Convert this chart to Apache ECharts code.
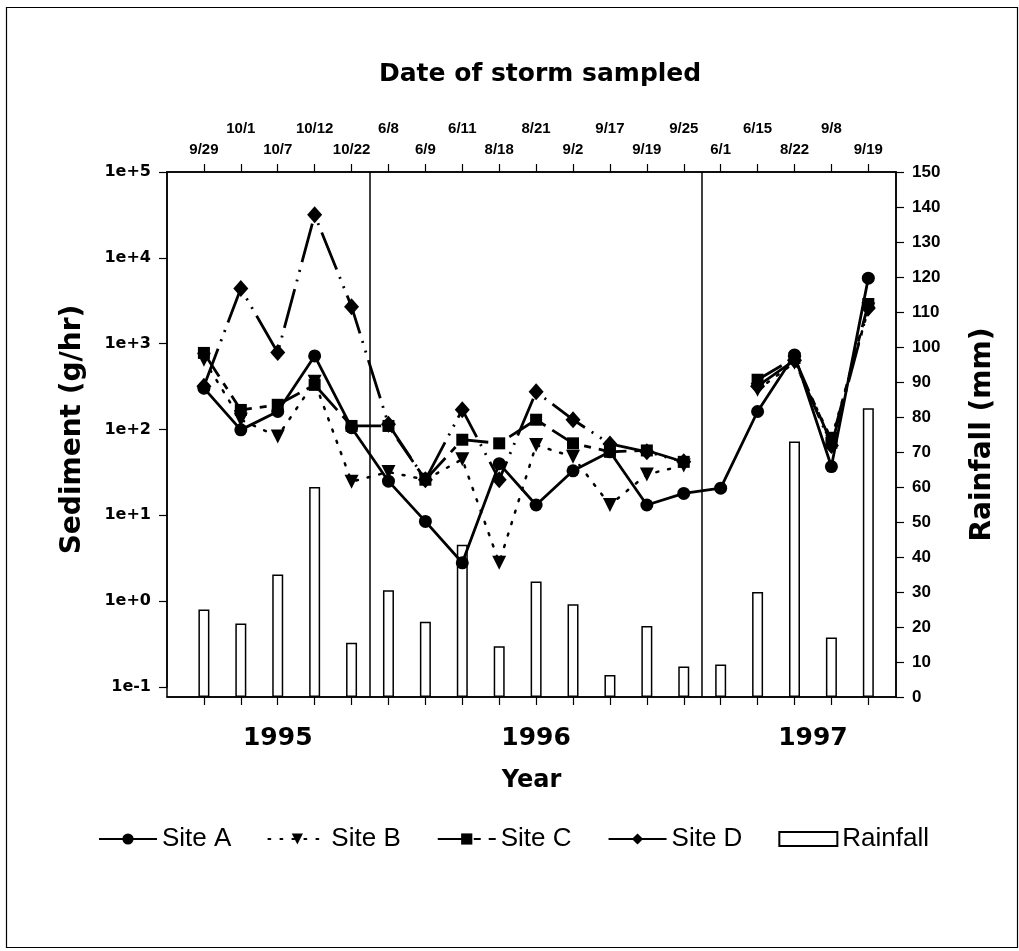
<!DOCTYPE html>
<html>
<head>
<meta charset="utf-8">
<script src="https://cdn.jsdelivr.net/npm/echarts@6/dist/echarts.min.js"></script>
<style>
  html, body { margin: 0; padding: 0; background: #fff; }
  #chart { width: 1019px; height: 951px; }
</style>
</head>
<body>
<div id="chart"></div>
<script>
// storm dates (top axis)
var storms = ['9/29','10/1','10/7','10/12','10/22','6/8','6/9','6/11','8/18','8/21','9/2','9/17','9/19','9/25','6/1','6/15','8/22','9/8','9/19'];
// sediment g/hr
var siteA = [303, 99, 162, 720, 105, 25, 8.5, 2.8, 40, 13.2, 33, 55, 13.2, 18, 20.7, 162, 740, 37, 5800];
var siteB = [650, 130, 83, 360, 24.7, 32, 26, 45, 2.8, 66, 48, 13.2, 30, 38, null, 290, 600, 78, 2500];
var siteC = [780, 169, 194, 331, 110, 110, 26, 76, 69, 130, 69, 55, 57, 42, null, 380, 680, 70, 2900];
var siteD = [320, 4400, 788, 31700, 2700, 115, 26, 170, 26, 275, 130, 68, 55, 42, null, 320, 640, 65, 2600];
// rainfall mm
var rainfall = [25, 21, 35, 60, 15.5, 30.5, 21.5, 43.5, 14.5, 33, 26.5, 6.3, 20.3, 8.7, 9.3, 30, 73, 17, 82.5];
// year labels and season dividers
var years = ['1995', '1996', '1997'];
var yearPos = [2, 9, 16.5];
var dividers = [4.5, 13.5];

var ARIAL = '"Liberation Sans", Arial, sans-serif';
var WIDE = '"DejaVu Sans", Verdana, sans-serif';
var idx = storms.map(function (s, i) { return i; });
var evenIdx = idx.filter(function (i) { return i % 2 === 0; });
var oddIdx = idx.filter(function (i) { return i % 2 === 1; });

function pairs(arr) {
  return arr.map(function (v, i) { return [i, v == null ? '-' : v]; });
}

var chart = echarts.init(document.getElementById('chart'));

var xBase = { type: 'value', min: -1, max: 18.75, interval: 1, splitLine: { show: false } };
var blackLine = { onZero: false, lineStyle: { color: '#000', width: 1.5 } };
var tick = { show: true, inside: false, length: 8, lineStyle: { color: '#000', width: 1.2 } };

chart.setOption({
  backgroundColor: '#fff',
  animation: false,
  title: {
    text: 'Date of storm sampled',
    left: 374,
    top: 57,
    textStyle: { fontFamily: WIDE, fontSize: 25, fontWeight: 'bold', color: '#000' }
  },
  legend: {
    top: 821,
    left: 93,
    itemWidth: 58,
    itemHeight: 14,
    itemGap: 36,
    textStyle: { fontFamily: ARIAL, fontSize: 26, color: '#000' },
    data: [
      'Site A', 'Site B', 'Site C',
      { name: 'Site D', lineStyle: { type: 'solid' } },
      { name: 'Rainfall', icon: 'rect' }
    ]
  },
  graphic: [{
    type: 'rect',
    left: 4, top: 5,
    shape: { width: 1011, height: 940 },
    style: { fill: 'none', stroke: '#000', lineWidth: 1.2 },
    silent: true
  }],
  grid: [
    { left: 167, right: 123, top: 172, bottom: 254, show: true, borderColor: '#000', borderWidth: 1.5 },
    { left: 167, right: 123, top: 172, bottom: 264 }
  ],
  xAxis: [
    Object.assign({}, xBase, {
      gridIndex: 0, position: 'bottom',
      axisLine: blackLine,
      axisTick: Object.assign({ customValues: idx }, tick),
      axisLabel: { show: false }
    }),
    Object.assign({}, xBase, {
      gridIndex: 0, position: 'top',
      axisLine: blackLine,
      axisTick: Object.assign({ customValues: idx }, tick),
      axisLabel: {
        customValues: evenIdx, margin: 15,
        fontFamily: ARIAL, fontSize: 15, fontWeight: 'bold', color: '#000',
        formatter: function (v) { return storms[Math.round(v)]; }
      }
    }),
    Object.assign({}, xBase, {
      gridIndex: 0, position: 'top',
      axisLine: { show: false, onZero: false }, axisTick: { show: false },
      axisLabel: {
        customValues: oddIdx, margin: 36,
        fontFamily: ARIAL, fontSize: 15, fontWeight: 'bold', color: '#000',
        formatter: function (v) { return storms[Math.round(v)]; }
      }
    }),
    Object.assign({}, xBase, {
      gridIndex: 0, position: 'bottom',
      axisLine: { show: false, onZero: false }, axisTick: { show: false },
      name: 'Year', nameLocation: 'middle', nameGap: 72,
      nameTextStyle: { fontFamily: WIDE, fontSize: 24, fontWeight: 'bold', color: '#000' },
      axisLabel: {
        customValues: yearPos, margin: 29,
        fontFamily: WIDE, fontSize: 25, fontWeight: 'bold', color: '#000',
        formatter: function (v) { return years[yearPos.indexOf(v)]; }
      }
    }),
    Object.assign({}, xBase, { gridIndex: 1, show: false, axisLine: { onZero: false } })
  ],
  yAxis: [
    {
      type: 'value', gridIndex: 0, position: 'right',
      min: 0, max: 150, interval: 10,
      splitLine: { show: false },
      axisLine: Object.assign({ show: true }, blackLine),
      axisTick: tick,
      axisLabel: { margin: 16, fontFamily: ARIAL, fontSize: 17, fontWeight: 'bold', color: '#000' },
      name: 'Rainfall (mm)', nameLocation: 'middle', nameRotate: 90, nameGap: 73,
      nameTextStyle: { fontFamily: WIDE, fontSize: 28, fontWeight: 'bold', color: '#000' }
    },
    {
      type: 'log', gridIndex: 1, position: 'left', logBase: 10,
      min: 0.1, max: 100000,
      splitLine: { show: false },
      minorTick: { show: false },
      axisLine: Object.assign({ show: true }, blackLine),
      axisTick: tick,
      axisLabel: {
        margin: 16, fontFamily: WIDE, fontSize: 16, fontWeight: 'bold', color: '#000',
        formatter: function (v) {
          var e = Math.round(Math.log10(v));
          return '1e' + (e < 0 ? '-' : '+') + Math.abs(e);
        }
      },
      name: 'Sediment (g/hr)', nameLocation: 'middle', nameRotate: 90, nameGap: 80,
      nameTextStyle: { fontFamily: WIDE, fontSize: 28, fontWeight: 'bold', color: '#000' }
    }
  ],
  series: [
    {
      name: 'Rainfall', type: 'bar', xAxisIndex: 0, yAxisIndex: 0,
      barWidth: 11,
      itemStyle: { color: '#fff', borderColor: '#000', borderWidth: 1.5 },
      data: pairs(rainfall),
      markLine: {
        silent: true, symbol: 'none', label: { show: false },
        lineStyle: { color: '#000', width: 1.5, type: 'solid' },
        data: dividers.map(function (d) { return { xAxis: d }; })
      },
      z: 1
    },
    {
      name: 'Site A', type: 'line', xAxisIndex: 4, yAxisIndex: 1,
      symbol: 'circle', symbolSize: 13,
      lineStyle: { color: '#000', width: 2.8 },
      itemStyle: { color: '#000' },
      data: pairs(siteA), z: 5
    },
    {
      name: 'Site B', type: 'line', xAxisIndex: 4, yAxisIndex: 1,
      symbol: 'triangle', symbolRotate: 180, symbolSize: 14,
      lineStyle: { color: '#000', width: 2.5, type: [2, 10], cap: 'round' },
      itemStyle: { color: '#000' },
      data: pairs(siteB), z: 4
    },
    {
      name: 'Site C', type: 'line', xAxisIndex: 4, yAxisIndex: 1,
      symbol: 'rect', symbolSize: 12,
      lineStyle: { color: '#000', width: 2.8, type: [28, 8, 7, 8] },
      itemStyle: { color: '#000' },
      data: pairs(siteC), z: 4
    },
    {
      name: 'Site D', type: 'line', xAxisIndex: 4, yAxisIndex: 1,
      symbol: 'diamond', symbolSize: [15, 17],
      lineStyle: { color: '#000', width: 2.8, type: [40, 8, 2, 8, 2, 8] },
      itemStyle: { color: '#000' },
      data: pairs(siteD), z: 4
    }
  ]
});
</script>
</body>
</html>
